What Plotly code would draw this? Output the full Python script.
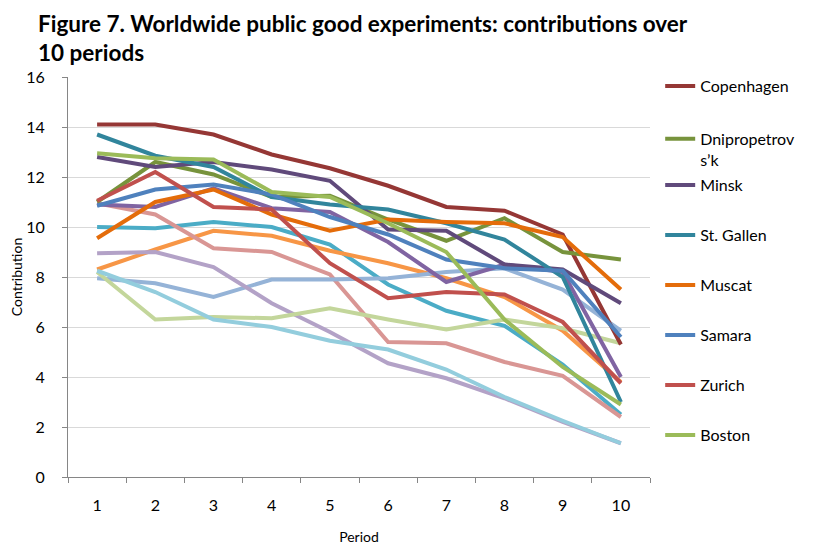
import plotly.graph_objects as go

periods = ["1", "2", "3", "4", "5", "6", "7", "8", "9", "10"]

# Legend series
copenhagen = [14.1, 14.1, 13.7, 12.9, 12.35, 11.65, 10.8, 10.65, 9.7, 5.3]
dnipro = [11.0, 12.6, 12.1, 11.2, 11.25, 10.3, 9.45, 10.35, 9.0, 8.7]
minsk = [12.8, 12.4, 12.6, 12.3, 11.85, 9.9, 9.85, 8.5, 8.3, 6.95]
st_gallen = [13.7, 12.85, 12.4, 11.2, 10.9, 10.7, 10.15, 9.5, 8.0, 3.0]
muscat = [9.55, 11.0, 11.5, 10.5, 9.85, 10.3, 10.2, 10.15, 9.6, 7.5]
samara = [10.85, 11.5, 11.7, 11.3, 10.4, 9.7, 8.7, 8.35, 8.25, 5.6]
zurich = [11.05, 12.2, 10.8, 10.7, 8.55, 7.15, 7.4, 7.3, 6.2, 3.75]
boston = [12.95, 12.75, 12.7, 11.4, 11.2, 10.15, 9.0, 6.3, 4.4, 2.9]

# Remaining series (not listed in the visible legend)
nottingham = [10.0, 9.95, 10.2, 10.0, 9.3, 7.7, 6.65, 6.05, 4.5, 2.5]
bonn = [8.3, 9.1, 9.85, 9.65, 9.05, 8.55, 7.95, 7.2, 5.85, 3.8]
chengdu = [10.95, 10.5, 9.15, 9.0, 8.1, 5.4, 5.35, 4.6, 4.05, 2.4]
seoul = [7.95, 7.75, 7.2, 7.9, 7.9, 7.95, 8.2, 8.35, 7.5, 5.85]
istanbul = [8.95, 9.0, 8.4, 6.95, 5.8, 4.55, 3.95, 3.15, 2.2, 1.35]
riyadh = [8.2, 6.3, 6.4, 6.35, 6.75, 6.3, 5.9, 6.3, 5.95, 5.35]
athens = [8.25, 7.4, 6.3, 6.0, 5.45, 5.1, 4.3, 3.2, 2.25, 1.35]
melbourne = [10.9, 10.8, 11.55, 10.75, 10.6, 9.4, 7.8, 8.5, 8.2, 4.0]

legend_series = [
    ("Copenhagen", copenhagen, "#953735", "legend"),
    ("Dnipropetrov<br>s\u2019k", dnipro, "#77933C", "legend"),
    ("Minsk", minsk, "#604A7B", "legend2"),
    ("St. Gallen", st_gallen, "#31859C", "legend2"),
    ("Muscat", muscat, "#E46C0A", "legend2"),
    ("Samara", samara, "#4F81BD", "legend2"),
    ("Zurich", zurich, "#C0504D", "legend2"),
    ("Boston", boston, "#9BBB59", "legend2"),
]
other_series = [
    ("Nottingham", nottingham, "#4BACC6"),
    ("Bonn", bonn, "#F79646"),
    ("Chengdu", chengdu, "#D99694"),
    ("Seoul", seoul, "#95B3D7"),
    ("Istanbul", istanbul, "#B3A2C7"),
    ("Riyadh", riyadh, "#C3D69B"),
    ("Athens", athens, "#93CDDD"),
    ("Melbourne", melbourne, "#8064A2"),
]

fig = go.Figure()
for name, vals, col in other_series:
    fig.add_trace(go.Scatter(x=periods, y=vals, name=name, mode="lines",
                             line=dict(color=col, width=4), showlegend=False))
for i, (name, vals, col, lg) in enumerate(legend_series):
    fig.add_trace(go.Scatter(x=periods, y=vals, name=name, mode="lines",
                             line=dict(color=col, width=4), legend=lg,
                             legendgroup=f"g{i}"))

font_family = "Lato, Open Sans, sans-serif"
legend_common = dict(
    xanchor="left", yanchor="top", bgcolor="rgba(0,0,0,0)",
    font=dict(family=font_family, size=16, color="#000000"),
    valign="top", itemwidth=30,
)

# The page body adds an 8px offset, so the figure is 8px smaller and shifted.
W, H = 812, 540
fig.update_layout(
    width=W, height=H,
    margin=dict(l=60, r=170, t=69, b=71, autoexpand=False),
    paper_bgcolor="white", plot_bgcolor="white",
    font=dict(family=font_family, color="#000000"),
    title=dict(
        text="<b>Figure 7. Worldwide public good experiments: contributions over<br>10 periods</b>",
        x=30 / W, xanchor="left", xref="container",
        y=1 - 24 / H, yanchor="middle", yref="container",
        font=dict(family=font_family, size=22.5, color="#000000"),
    ),
    legend=dict(x=1.0175, y=1.02, tracegroupgap=29, **legend_common),
    legend2=dict(x=1.0175, y=0.7725, tracegroupgap=26.2, **legend_common),
    xaxis=dict(
        type="category", tickson="boundaries", ticks="outside", ticklen=5,
        range=[-0.5, 9.5], automargin=False,
        tickcolor="#868686", showline=True, linecolor="#868686", linewidth=1,
        showgrid=False, tickfont=dict(size=16, family=font_family),
        ticklabelstandoff=14,
        title=dict(text="Period", font=dict(size=14, family=font_family), standoff=18),
    ),
    yaxis=dict(
        range=[0, 16], dtick=2, ticks="outside", ticklen=5, tickcolor="#868686",
        showline=True, linecolor="#868686", linewidth=1, automargin=False,
        showgrid=True, gridcolor="#D9D9D9", gridwidth=1, zeroline=False,
        tickfont=dict(size=16, family=font_family), ticklabelstandoff=14,
        title=dict(text="Contribution", font=dict(size=14, family=font_family), standoff=10),
    ),
)

fig.write_html("out.html")
